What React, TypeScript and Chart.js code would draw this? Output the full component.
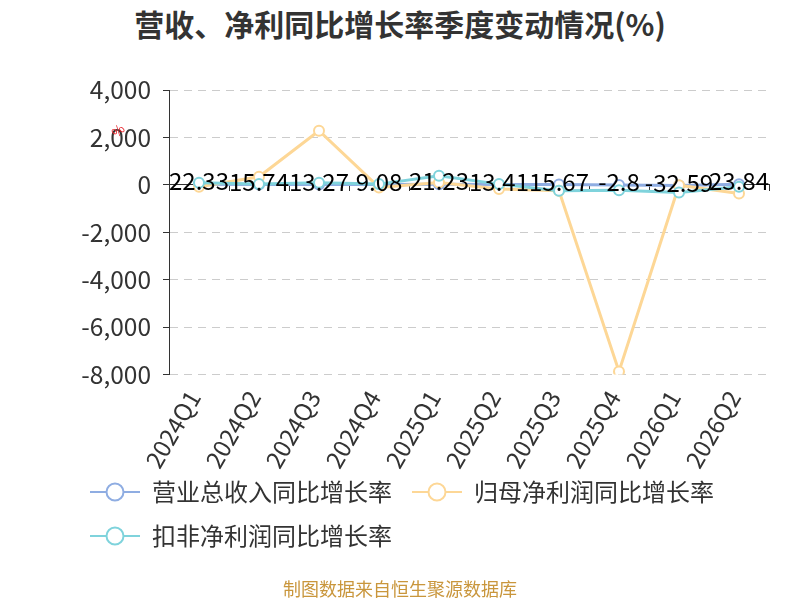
import React, { useEffect, useRef } from 'react';
import { Chart, registerables } from 'chart.js';

Chart.register(...registerables);

const quarters = ['2024Q1', '2024Q2', '2024Q3', '2024Q4', '2025Q1', '2025Q2', '2025Q3', '2025Q4', '2026Q1', '2026Q2'];
const revenueGrowth = [22.33, 15.74, 13.27, 9.08, 21.23, 13.41, 15.67, -2.8, -32.59, 23.84];
const netProfitGrowth = [-85, 340, 2280, -110, 100, -180, -250, -7870, -15, -365];
const deductedProfitGrowth = [85, 30, 85, 30, 380, 30, -250, -225, -320, -85];

const seriesNames = ['营业总收入同比增长率', '归母净利润同比增长率', '扣非净利润同比增长率'];
const seriesColors = ['#8fade2', '#fdd796', '#7fd3dc'];

const yMin = -8000;
const yMax = 4000;
const yStep = 2000;

const FONT = '"Noto Sans CJK SC", "Noto Sans", sans-serif';

function makeSymbol(color: string): HTMLCanvasElement {
  const c = document.createElement('canvas');
  c.width = 50;
  c.height = 24;
  const g = c.getContext('2d')!;
  g.strokeStyle = color;
  g.lineWidth = 2;
  g.beginPath();
  g.moveTo(0, 12);
  g.lineTo(50, 12);
  g.stroke();
  g.beginPath();
  g.arc(25, 12, 8.5, 0, Math.PI * 2);
  g.fillStyle = '#fff';
  g.fill();
  g.stroke();
  return c;
}

const valueLabels = {
  id: 'valueLabels',
  afterDatasetsDraw(chart: any) {
    const meta = chart.getDatasetMeta(0);
    const ctx = chart.ctx;
    ctx.save();
    ctx.font = `24px ${FONT}`;
    ctx.fillStyle = '#000';
    ctx.textAlign = 'center';
    ctx.textBaseline = 'middle';
    meta.data.forEach((pt: any, i: number) => {
      ctx.fillText(String(revenueGrowth[i]), pt.x, pt.y - 3);
    });
    ctx.restore();
  },
};

const unitMark = {
  id: 'unitMark',
  afterDraw(chart: any) {
    const y = chart.scales.y;
    const ctx = chart.ctx;
    ctx.save();
    ctx.translate(y.right - 51, y.getPixelForValue(2000) - 7);
    ctx.rotate(-Math.PI / 4);
    ctx.font = `13px ${FONT}`;
    ctx.fillStyle = '#e8222a';
    ctx.textAlign = 'center';
    ctx.textBaseline = 'middle';
    ctx.fillText('%', 0, 0);
    ctx.restore();
  },
};

// let the rotated category labels overflow their axis box (they overlap the legend area's top padding)
const unclipLabels = {
  id: 'unclipLabels',
  beforeDraw(chart: any) {
    const s = chart.scales.x;
    if (s) s._computeLabelArea = () => undefined;
  },
};

export default function App() {
  const ref = useRef<HTMLCanvasElement>(null);

  useEffect(() => {
    if (!ref.current) return;
    const symbols = seriesColors.map(makeSymbol);
    const values = [revenueGrowth, netProfitGrowth, deductedProfitGrowth];
    const orders = [2, 1, 0];
    const chart = new Chart(ref.current, {
      type: 'line',
      data: {
        labels: quarters,
        datasets: values.map((v, i) => ({
          label: seriesNames[i],
          data: v,
          borderColor: seriesColors[i],
          backgroundColor: '#fff',
          borderWidth: 3,
          pointRadius: 5,
          pointBorderWidth: 2,
          pointBackgroundColor: '#fff',
          pointBorderColor: seriesColors[i],
          tension: 0,
          order: orders[i],
          xAxisID: 'x',
          yAxisID: 'y',
        })),
      },
      options: {
        responsive: false,
        animation: false,
        layout: { padding: { top: 90, left: 70, right: 31, bottom: 42 } },
        scales: {
          x: {
            type: 'category',
            position: 'bottom',
            offset: true,
            grid: { display: false },
            border: { display: false },
            ticks: {
              minRotation: 60,
              maxRotation: 60,
              padding: 3,
              labelOffset: -5,
              color: '#333',
              font: { size: 24, family: FONT },
            },
            afterFit: (s: any) => {
              s.height = 85.5;
            },
          },
          x2: {
            type: 'category',
            axis: 'x',
            labels: quarters,
            position: { y: 0 },
            offset: true,
            grid: {
              display: true,
              drawOnChartArea: false,
              drawTicks: true,
              tickLength: 6,
              offset: true,
              color: '#333',
              tickColor: '#333',
            },
            border: { display: true, color: '#333', width: 1 },
            ticks: { display: false },
          },
          y: {
            type: 'linear',
            min: yMin,
            max: yMax,
            ticks: {
              stepSize: yStep,
              padding: 12,
              color: '#333',
              font: { size: 24.5, family: FONT },
            },
            grid: { color: '#cccccc', tickColor: '#333', tickLength: 6, lineWidth: 1 },
            border: { display: true, color: '#333', width: 1, dash: [8, 6] },
            afterFit: (s: any) => {
              s.width = 99;
            },
          },
        },
        plugins: {
          tooltip: { enabled: false },
          title: { display: false },
          legend: {
            display: true,
            position: 'bottom',
            align: 'start',
            labels: {
              usePointStyle: true,
              pointStyleWidth: 50,
              boxHeight: 24,
              padding: 20,
              color: '#333',
              font: { size: 24, family: FONT },
              generateLabels: (ch: any) =>
                ch.data.datasets.map((ds: any, i: number) => ({
                  text: ds.label,
                  fillStyle: 'transparent',
                  strokeStyle: 'transparent',
                  lineWidth: 0,
                  pointStyle: symbols[i],
                  fontColor: '#333',
                  hidden: !ch.isDatasetVisible(i),
                  datasetIndex: i,
                })),
            },
          },
        },
      } as any,
      plugins: [unclipLabels, valueLabels, unitMark],
    });
    return () => chart.destroy();
  }, []);

  return (
    <div style={{ position: 'absolute', left: 0, top: 0, width: 800, height: 600, background: '#fff' }}>
      <div
        style={{
          position: 'absolute',
          left: 0,
          top: 0,
          width: 800,
          height: 46,
          lineHeight: '46px',
          textAlign: 'center',
          fontFamily: FONT,
          fontWeight: 'bold',
          fontSize: 30,
          color: '#333',
        }}
      >
        营收、净利同比增长率季度变动情况(%)
      </div>
      <canvas ref={ref} width={800} height={600} style={{ position: 'absolute', left: 0, top: 0 }} />
      <div
        style={{
          position: 'absolute',
          left: 0,
          top: 576,
          width: 800,
          height: 24,
          lineHeight: '24px',
          textAlign: 'center',
          fontFamily: FONT,
          fontSize: 18,
          color: '#c9963c',
        }}
      >
        制图数据来自恒生聚源数据库
      </div>
    </div>
  );
}
